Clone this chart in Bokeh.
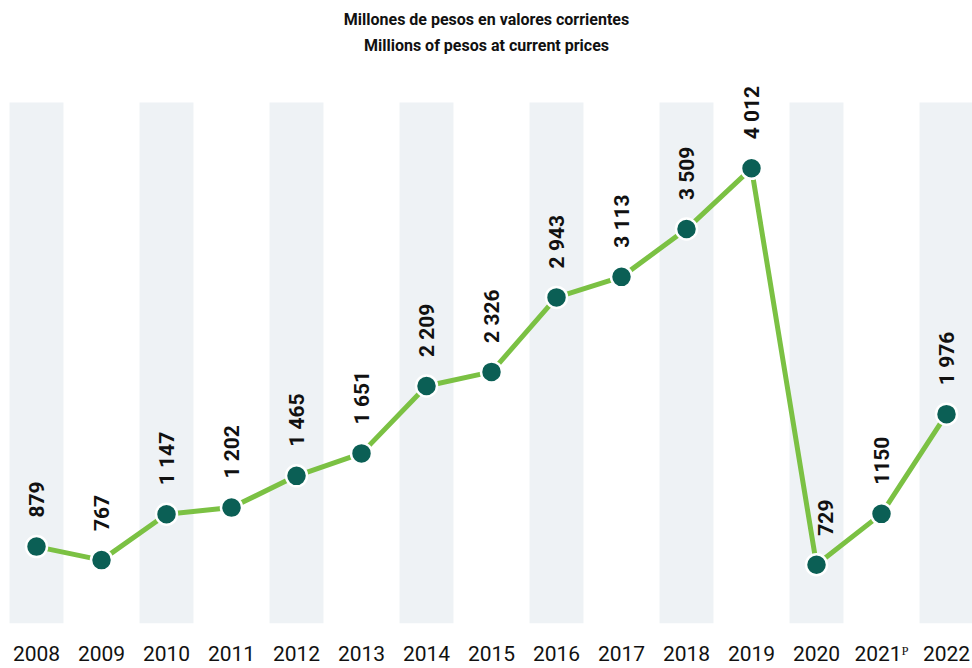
import math
from bokeh.plotting import figure
from bokeh.models import Range1d, FixedTicker, Title, ColumnDataSource
from bokeh.core.properties import value
from bokeh.embed import file_html
from bokeh.resources import INLINE

years = ["2008", "2009", "2010", "2011", "2012", "2013", "2014", "2015",
         "2016", "2017", "2018", "2019", "2020", "2021\u1d3e", "2022"]
values = [879, 767, 1147, 1202, 1465, 1651, 2209, 2326,
          2943, 3113, 3509, 4012, 729, 1150, 1976]
labels = ["879", "767", "1 147", "1 202", "1 465", "1 651", "2 209", "2 326",
          "2 943", "3 113", "3 509", "4 012", "729", "1150", "1 976"]
title_es = "Millones de pesos en valores corrientes"
title_en = "Millions of pesos at current prices"

FONT = "Roboto"

xs = list(range(len(years)))
y_lo, y_hi = 242, 4905      # frame range
stripe_top = 4558           # top of the shaded columns
label_nudge = {"2020": 9}   # px to the right, keeps the label off the line

p = figure(width=972, height=668, output_backend="svg", toolbar_location=None,
           x_range=Range1d(-0.554, 14.4), y_range=Range1d(y_lo, y_hi),
           min_border_left=0, min_border_right=0, min_border_bottom=0, min_border_top=0)
p.outline_line_color = None
p.grid.visible = False
p.yaxis.visible = False
p.background_fill_color = "white"

t2 = Title(text=title_en, align="center", text_font=FONT, text_font_size="16px",
           text_font_style="bold", text_color="#111111", standoff=11)
t1 = Title(text=title_es, align="center", text_font=FONT, text_font_size="16px",
           text_font_style="bold", text_color="#111111", standoff=0)
spacer = Title(text=" ", text_font_size="1px", standoff=4)
p.add_layout(t2, "above")
p.add_layout(t1, "above")
p.add_layout(spacer, "above")

# alternating stripes
sx = [x for x in xs if x % 2 == 0]
p.vbar(x=sx, width=0.83, top=stripe_top, bottom=y_lo, fill_color="#eef2f5", line_color=None)

dx = [label_nudge.get(y, 0) for y in years]
src = ColumnDataSource(dict(x=xs, y=values, lab=labels, dx=dx))
p.line("x", "y", source=src, line_color="#7bc143", line_width=5)
p.scatter("x", "y", source=src, size=21, fill_color="#0b5f55",
          line_color="white", line_width=2.5)
p.text("x", "y", text="lab", source=src, angle=math.pi / 2, x_offset="dx",
       text_align="left", text_baseline="middle", y_offset=-29,
       text_font=value(FONT), text_font_size="21px", text_font_style="bold",
       text_color="#111111")

ax = p.xaxis[0]
ax.ticker = FixedTicker(ticks=xs)
ax.major_label_overrides = {i: y for i, y in enumerate(years)}
ax.major_tick_line_color = None
ax.minor_tick_line_color = None
ax.axis_line_color = None
ax.major_tick_out = 0
ax.major_tick_in = 0
ax.major_label_standoff = 18
ax.major_label_text_font = FONT
ax.major_label_text_font_size = "21px"
ax.major_label_text_color = "#111111"

open("out.html", "w").write(file_html(p, INLINE))
